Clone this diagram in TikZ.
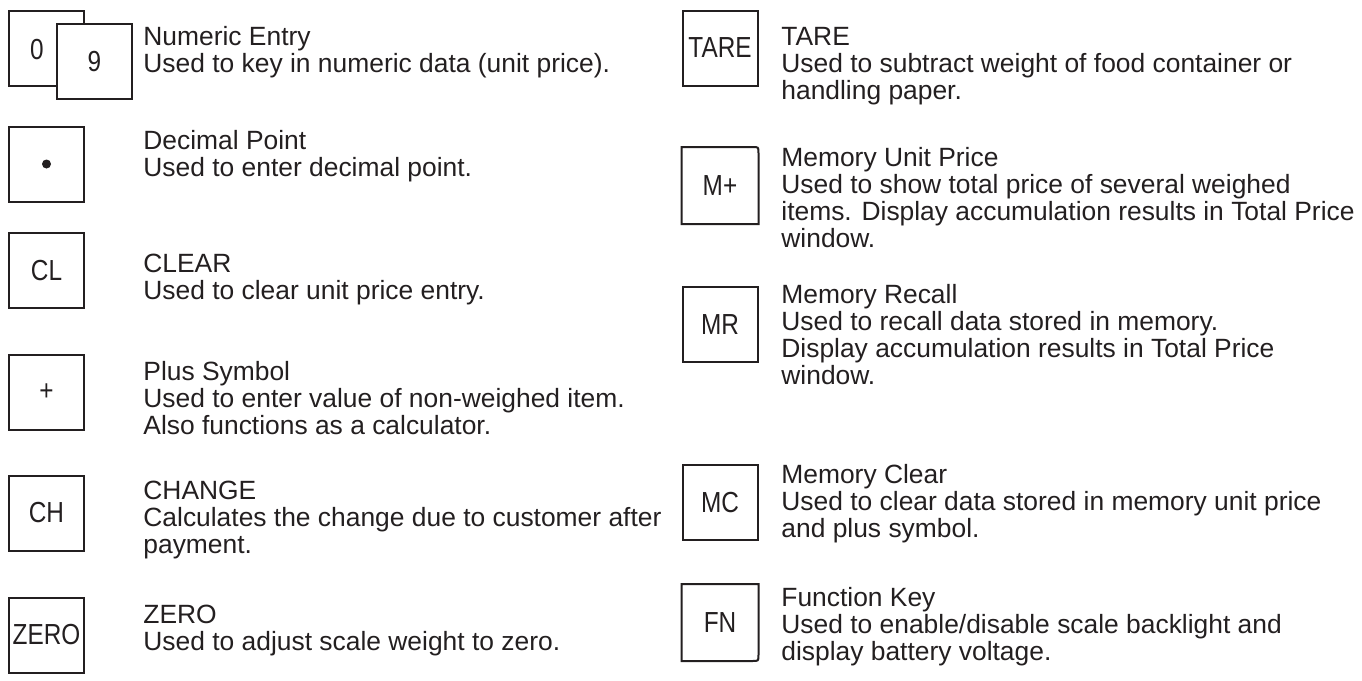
\documentclass[tikz,border=0pt]{standalone}
\usepackage{fontspec}
\setmainfont{Liberation Sans}
\newfontfamily\keyfont{Liberation Sans}[FakeStretch=0.84]
\definecolor{ink}{HTML}{231F20}

\begin{document}
\begin{tikzpicture}[x=0.5pt,y=-0.5pt,
  key/.style={draw=ink,line width=1pt,fill=white,minimum size=37.5pt,inner sep=0pt,
    text=ink,font=\keyfont\fontsize{14.5}{14.5}\selectfont},
  keytext/.style={inner sep=0pt,text=ink,font=\keyfont\fontsize{14.5}{14.5}\selectfont},
  keyline/.style={draw=ink,line width=1pt},
  info/.style={anchor=north west,align=left,inner sep=0pt,text=ink,
    font=\fontsize{13.2}{13.5}\selectfont,execute at begin node=\rule{0pt}{10pt}}]
\useasboundingbox (0,0) rectangle (1362,681);

% left column
\node[key] (key0) at (46.5,48) {};
\node[keytext] (lab0) at (37,50) {0};
\node[key] (key9) at (94.5,61.5) {9};
\node[info] (numeric) at (143,26) {Numeric Entry\\Used to key in numeric data (unit price).};

\node[key] (keydot) at (46.5,164) {};
\node[circle,fill=ink,inner sep=0pt,minimum size=4.5pt] (dot) at (keydot) {};
\node[info] (decimal) at (143,130) {Decimal Point\\Used to enter decimal point.};

\node[key] (keycl) at (46.5,270.5) {CL};
\node[info] (clear) at (143,254) {CLEAR\\Used to clear unit price entry.};

\node[key] (keyplus) at (46.5,392.5) {+};
\node[info] (plus) at (143,361) {Plus Symbol\\Used to enter value of non-weighed item.\\Also functions as a calculator.};

\node[key] (keych) at (46.5,513) {CH};
\node[info] (change) at (143,481) {CHANGE\\Calculates the change due to customer after\\payment.};

\node[key] (keyzero) at (46.5,635) {ZERO};
\node[info] (zero) at (143,605) {ZERO\\Used to adjust scale weight to zero.};

% right column
\node[key] (keytare) at (720,48) {TARE};
\node[info] (tare) at (781,27) {TARE\\Used to subtract weight of food container or\\handling paper.};

\node[key,draw=none] (keymplus) at (720,185.5) {M+};
\draw[keyline] (keymplus.north west) -- ([xshift=-3pt]keymplus.north east)
  .. controls (keymplus.north east) .. ([yshift=-3pt]keymplus.north east)
  -- (keymplus.south east) -- (keymplus.south west) -- cycle;
\node[info] (mplus) at (781,147) {Memory Unit Price\\Used to show total price of several weighed\\items. Display accumulation results in Total Price\\window.};

\node[key] (keymr) at (720,324.5) {MR};
\node[info] (mr) at (781,284) {Memory Recall\\Used to recall data stored in memory.\\Display accumulation results in Total Price\\window.};

\node[key] (keymc) at (720,502.5) {MC};
\node[info] (mc) at (781,464) {Memory Clear\\Used to clear data stored in memory unit price\\and plus symbol.};

\node[key,draw=none] (keyfn) at (720,622.5) {FN};
\draw[keyline] (keyfn.north west) -- (keyfn.north east)
  -- ([yshift=3pt]keyfn.south east) .. controls (keyfn.south east) .. ([xshift=-3pt]keyfn.south east)
  -- (keyfn.south west) -- cycle;
\node[info] (fn) at (781,587) {Function Key\\Used to enable/disable scale backlight and\\display battery voltage.};
\end{tikzpicture}
\end{document}
